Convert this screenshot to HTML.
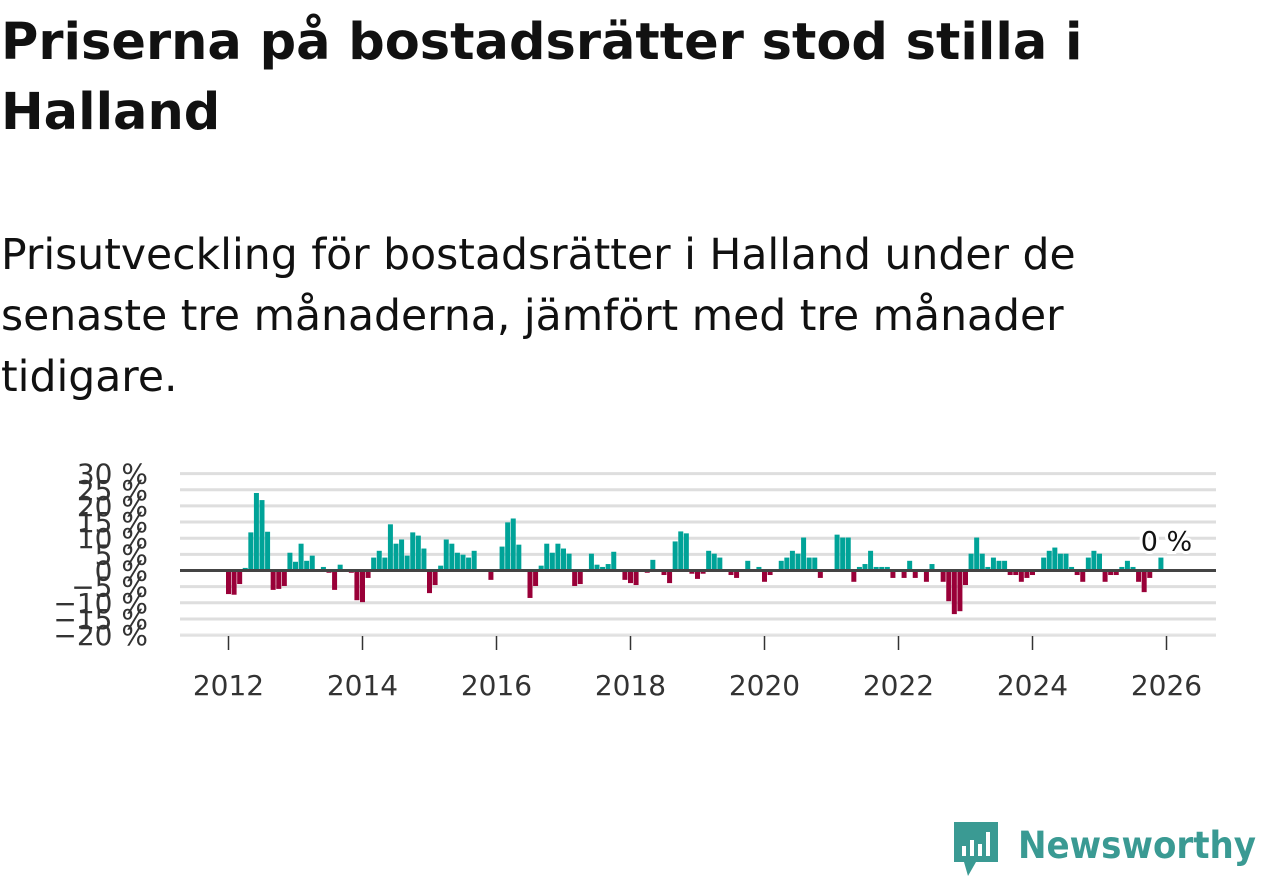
<!DOCTYPE html>
<html><head><meta charset="utf-8">
<style>
body{margin:0;width:1262px;height:879px;background:#fff;overflow:hidden;font-family:"DejaVu Sans",sans-serif;}
#title{position:absolute;left:1px;top:8px;font-size:51px;font-weight:bold;line-height:70px;color:#111;margin:0;white-space:nowrap;font-family:"DejaVu Sans",sans-serif;}
#subtitle{position:absolute;left:1px;top:225px;font-size:42.5px;line-height:61px;color:#111;margin:0;white-space:nowrap;font-family:"DejaVu Sans",sans-serif;}
#chart{position:absolute;left:0;top:0;}
#logo{position:absolute;left:950px;top:818px;}
</style></head><body>
<h1 id="title">Priserna på bostadsrätter stod stilla i<br>Halland</h1>
<p id="subtitle">Prisutveckling för bostadsrätter i Halland under de<br>senaste tre månaderna, jämfört med tre månader<br>tidigare.</p>
<svg id="chart" width="1262" height="879"></svg>
<svg id="logo" width="312" height="62">
  <path d="M4 4 H48 V44 H26 L18 58 L14 44 H4 Z" fill="#3a9a93"/>
  <rect x="12" y="28" width="4" height="10" fill="#fff"/><rect x="20" y="22" width="4" height="16" fill="#fff"/>
  <rect x="28" y="26" width="4" height="12" fill="#fff"/><rect x="36" y="14" width="4" height="24" fill="#fff"/>
  <text x="68" y="40" font-family="DejaVu Sans, sans-serif" font-size="37" font-weight="bold" fill="#3a9a93" textLength="238" lengthAdjust="spacingAndGlyphs">Newsworthy</text>
</svg>
<script>
const startYear = 2012;
const values = [
-7.3,-7.5,-4.2,0.8,11.8,24,21.8,12,-6,-5.7,-4.8,5.5,
2.7,8.3,3,4.6,0,1.1,-0.7,-6,1.8,0,-0.7,-9.2,
-9.8,-2.3,4,6.1,4,14.3,8.3,9.6,4.6,11.8,10.8,6.8,
-7,-4.5,1.5,9.6,8.3,5.5,4.9,4,6.1,0,-0.4,-2.9,
0,7.4,14.9,16.1,8,0,-8.5,-4.8,1.5,8.3,5.5,8.3,
6.8,5.2,-4.8,-4.2,0,5.2,1.8,1.1,2,5.8,0,-2.9,
-3.9,-4.5,0,-0.7,3.3,0,-1.4,-3.9,9,12.1,11.5,-1,
-2.6,-1,6.1,5.2,4,-0.4,-1.4,-2.3,-0.4,3,0,1.1,
-3.5,-1.4,-0.4,3,4,6.1,5.2,10.2,4,4,-2.3,0,
-0.4,11.1,10.2,10.2,-3.5,1.1,2,6.1,1.1,1.1,1.1,-2.3,
-0.4,-2.3,3,-2.3,-0.4,-3.5,2,0,-3.5,-9.5,-13.5,-12.6,
-4.5,5.2,10.2,5.2,1.1,4,3,3,-1.4,-1.4,-3.5,-2.3,
-1.4,0,4,6.1,7.1,5.2,5.2,1.1,-1.4,-3.5,4,6.1,
5.2,-3.5,-1.4,-1.4,1.1,3,1.1,-3.5,-6.7,-2.3,-0.4,4,
0];
const yTicks = [30,25,20,15,10,5,0,-5,-10,-15,-20];
const xTickYears = [2012,2014,2016,2018,2020,2022,2024,2026];
const lastLabel = "0 %";

const svg = document.getElementById('chart');
const NS = 'http://www.w3.org/2000/svg';
const x0 = 228.5, pxPerYear = 67;
function xScale(monthIndex){ return x0 + monthIndex * pxPerYear / 12; }
function xYear(y){ return x0 + (y - startYear) * pxPerYear; }
const zeroY = 570.5, pxPerPct = 16.15/5;
function yScale(v){ return zeroY - v * pxPerPct; }
function mk(tag, attrs){ const e = document.createElementNS(NS, tag); for (const k in attrs) e.setAttribute(k, attrs[k]); svg.appendChild(e); return e; }

yTicks.forEach(t => {
  if (t !== 0) {
    const g = mk('line', {x1:180, x2:1216, y1:yScale(t), y2:yScale(t), stroke:'#dedede', 'stroke-width':3});
    
    
  }
  const lab = mk('text', {x:148, y:yScale(t)+10, 'text-anchor':'end', 'font-size':28, fill:'#333', 'font-family':'DejaVu Sans, sans-serif'});
  lab.textContent = (t < 0 ? '\u2212' + (-t) : t) + ' %';
  
  
});
const ax = mk('line', {x1:180, x2:1216, y1:634.5, y2:634.5, stroke:'#e4e4e4', 'stroke-width':1.5});


xTickYears.forEach(yr => {
  const xx = xYear(yr);
  const tk = mk('line', {x1:xx, x2:xx, y1:636, y2:650, stroke:'#333', 'stroke-width':1.5});
  
  
  const lab = mk('text', {x:xx, y:695, 'text-anchor':'middle', 'font-size':28, fill:'#333', 'font-family':'DejaVu Sans, sans-serif'});
  lab.textContent = yr;
  
  
});
values.forEach((v, i) => {
  if (v === 0) return;
  const cx = xScale(i);
  const y = Math.min(yScale(v), zeroY), h = Math.abs(yScale(v) - zeroY);
  const r = mk('rect', {x:cx-2.5, y:y, width:5, height:h, fill: v > 0 ? '#00a398' : '#990038'});
  
  
});
const zl = mk('line', {x1:180, x2:1216, y1:zeroY, y2:zeroY, stroke:'#444', 'stroke-width':3});


const li = values.length - 1;
const ll = mk('text', {x:xScale(li), y:yScale(values[li]) - 20, 'text-anchor':'middle', 'font-size':27, fill:'#111', stroke:'#fff', 'stroke-width':6, 'paint-order':'stroke', 'font-family':'DejaVu Sans, sans-serif'});
ll.textContent = lastLabel;


</script>
</body></html>
